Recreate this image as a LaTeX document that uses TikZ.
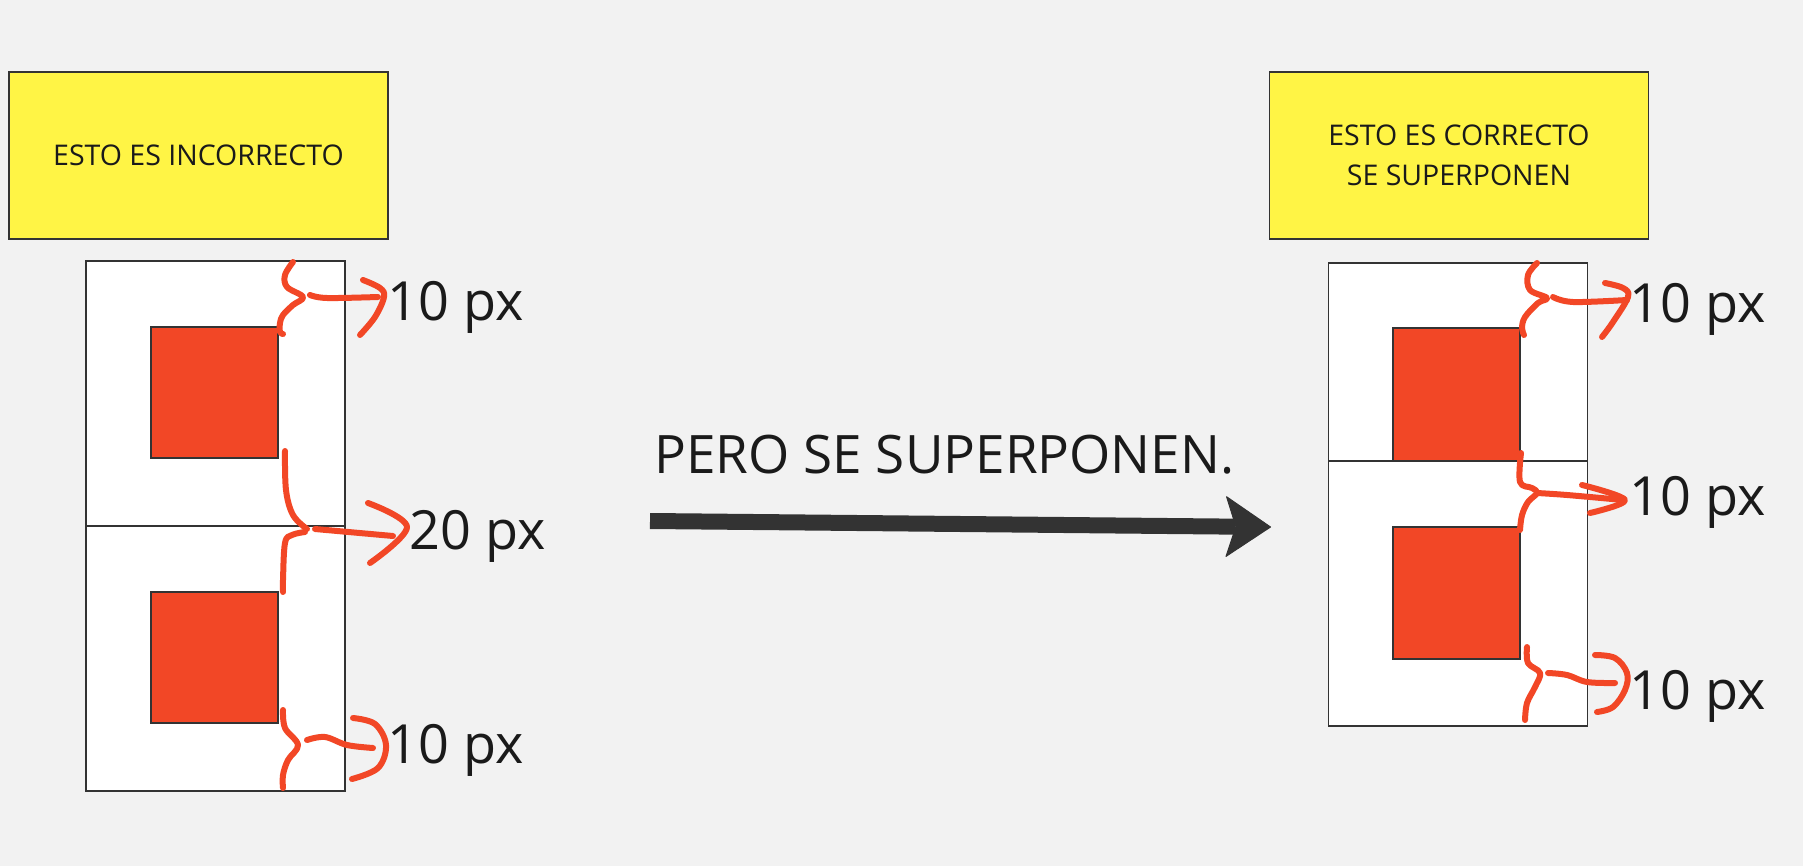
\documentclass[tikz,border=0pt]{standalone}
\usepackage{fontspec}
\setmainfont{Open Sans}
\usetikzlibrary{arrows.meta}

\definecolor{boardgray}{HTML}{F2F2F2}
\definecolor{stickyyellow}{HTML}{FFF445}
\definecolor{boxred}{HTML}{F24726}
\definecolor{inkgray}{HTML}{333333}
\definecolor{textblack}{HTML}{1A1A1A}

\tikzset{
	sticky/.style={draw=inkgray, line width=1.5pt, fill=stickyyellow, inner sep=0pt,
		minimum width=379pt, minimum height=167pt, align=center,
		font=\fontsize{28.5}{40}\selectfont, text=textblack},
	cell/.style={draw=inkgray, line width=1.5pt, fill=white, inner sep=0pt,
		minimum width=259pt, minimum height=265pt},
	redsq/.style={draw=inkgray, line width=1.2pt, fill=boxred, inner sep=0pt,
		minimum width=127pt, minimum height=131pt},
	pxlabel/.style={font=\fontsize{54}{60}\selectfont, text=textblack, inner sep=0pt},
	sketch/.style={draw=boxred, line width=6pt, line cap=round, line join=round}
}

\begin{document}
\begin{tikzpicture}[x=1pt, y=-1pt]
		\fill [boardgray] (0, 0) rectangle (1803, 866);
		\useasboundingbox (0, 0) rectangle (1803, 866);
		% the two notes
		\node [sticky] (wrongnote) at (198.5, 155.5) {ESTO ES INCORRECTO};
		\node [sticky] (rightnote) at (1459, 155.5) {ESTO ES CORRECTO\\SE SUPERPONEN};
		% left stack: cells touch, 20 px between the squares
		\node [cell] (lefttop) at (215.5, 393.5) {};
		\node [redsq] (lefttopsq) at (214.5, 392.5) {};
		\node [cell] (leftbot) at (215.5, 658.5) {};
		\node [redsq] (leftbotsq) at (214.5, 657.5) {};
		% right stack: the lower cell lies over the upper one
		\node [cell] (righttop) at (1458, 395.5) {};
		\node [redsq, minimum height=133pt] (righttopsq) at (1456.5, 394.5) {};
		\node [cell] (rightbot) at (1458, 593.5) {};
		\node [redsq, minimum height=132pt] (rightbotsq) at (1456.5, 593) {};
		% braces and hand arrows, left
		\draw [sketch] plot [smooth, tension=0.6] coordinates {(293,262) (285,275) (287,287) (303,297) (293,305) (283,315) (280,323) (280,332) (283,334)};
		\draw [sketch] plot [smooth, tension=0.6] coordinates {(310,295) (327,298) (378,297)};
		\draw [sketch] plot [smooth, tension=0.6] coordinates {(363,280) (380,288) (384,297) (375,317) (360,335)};
		\draw [sketch] plot [smooth, tension=0.6] coordinates {(285,451) (286,490) (293,515) (307,529)};
		\draw [sketch] plot [smooth, tension=0.6] coordinates {(305,532) (292,535) (285,543) (283,580) (283,592)};
		\draw [sketch] plot [smooth, tension=0.6] coordinates {(315,529) (393,536)};
		\draw [sketch] plot [smooth, tension=0.6] coordinates {(368,503) (407,527) (370,563)};
		\draw [sketch] plot [smooth, tension=0.6] coordinates {(283,710) (285,728) (298,745) (288,760) (283,775) (283,788)};
		\draw [sketch] plot [smooth, tension=0.6] coordinates {(307,740) (325,737) (347,745) (373,748)};
		\draw [sketch] plot [smooth, tension=0.6] coordinates {(353,718) (375,724) (386,745) (378,768) (352,779)};
		% braces and hand arrows, right
		\draw [sketch] plot [smooth, tension=0.6] coordinates {(1537,263) (1528,275) (1530,290) (1547,298) (1538,303) (1525,317) (1522,328) (1524,335)};
		\draw [sketch] plot [smooth, tension=0.6] coordinates {(1553,297) (1573,302) (1627,300)};
		\draw [sketch] plot [smooth, tension=0.6] coordinates {(1605,283) (1623,288) (1628,297) (1613,322) (1602,337)};
		\draw [sketch] plot [smooth, tension=0.6] coordinates {(1521,453) (1520,482) (1532,488) (1537,493) (1528,502) (1522,515) (1520,530)};
		\draw [sketch] plot [smooth, tension=0.6] coordinates {(1537,493) (1567,495) (1623,500)};
		\draw [sketch] plot [smooth, tension=0.6] coordinates {(1582,485) (1625,500) (1590,513)};
		\draw [sketch] plot [smooth, tension=0.6] coordinates {(1527,647) (1528,663) (1540,673) (1535,687) (1527,703) (1525,720)};
		\draw [sketch] plot [smooth, tension=0.6] coordinates {(1548,673) (1567,675) (1587,682) (1615,683)};
		\draw [sketch] plot [smooth, tension=0.6] coordinates {(1595,655) (1615,658) (1627,673) (1625,690) (1613,707) (1597,712)};
		% sizes
		\node [pxlabel] (gaplt) at (456, 307) {10 px};
		\node [pxlabel] (gaplm) at (477.5, 536) {20 px};
		\node [pxlabel] (gaplb) at (456, 750) {10 px};
		\node [pxlabel] (gaprt) at (1698, 309) {10 px};
		\node [pxlabel] (gaprm) at (1698, 502) {10 px};
		\node [pxlabel] (gaprb) at (1698, 696) {10 px};
		% middle arrow
		\node [pxlabel, font=\fontsize{53}{60}\selectfont] (overlap) at (944.5, 455) {PERO SE SUPERPONEN.};
		\coordinate (fromleft) at (650, 521);
		\coordinate (toright) at (1271, 527);
		\draw [inkgray, line width=16pt, -{Stealth[length=46pt, width=62pt, inset=10pt, round, line width=1pt]}] (fromleft) -- (toright);
	\end{tikzpicture}
\end{document}
